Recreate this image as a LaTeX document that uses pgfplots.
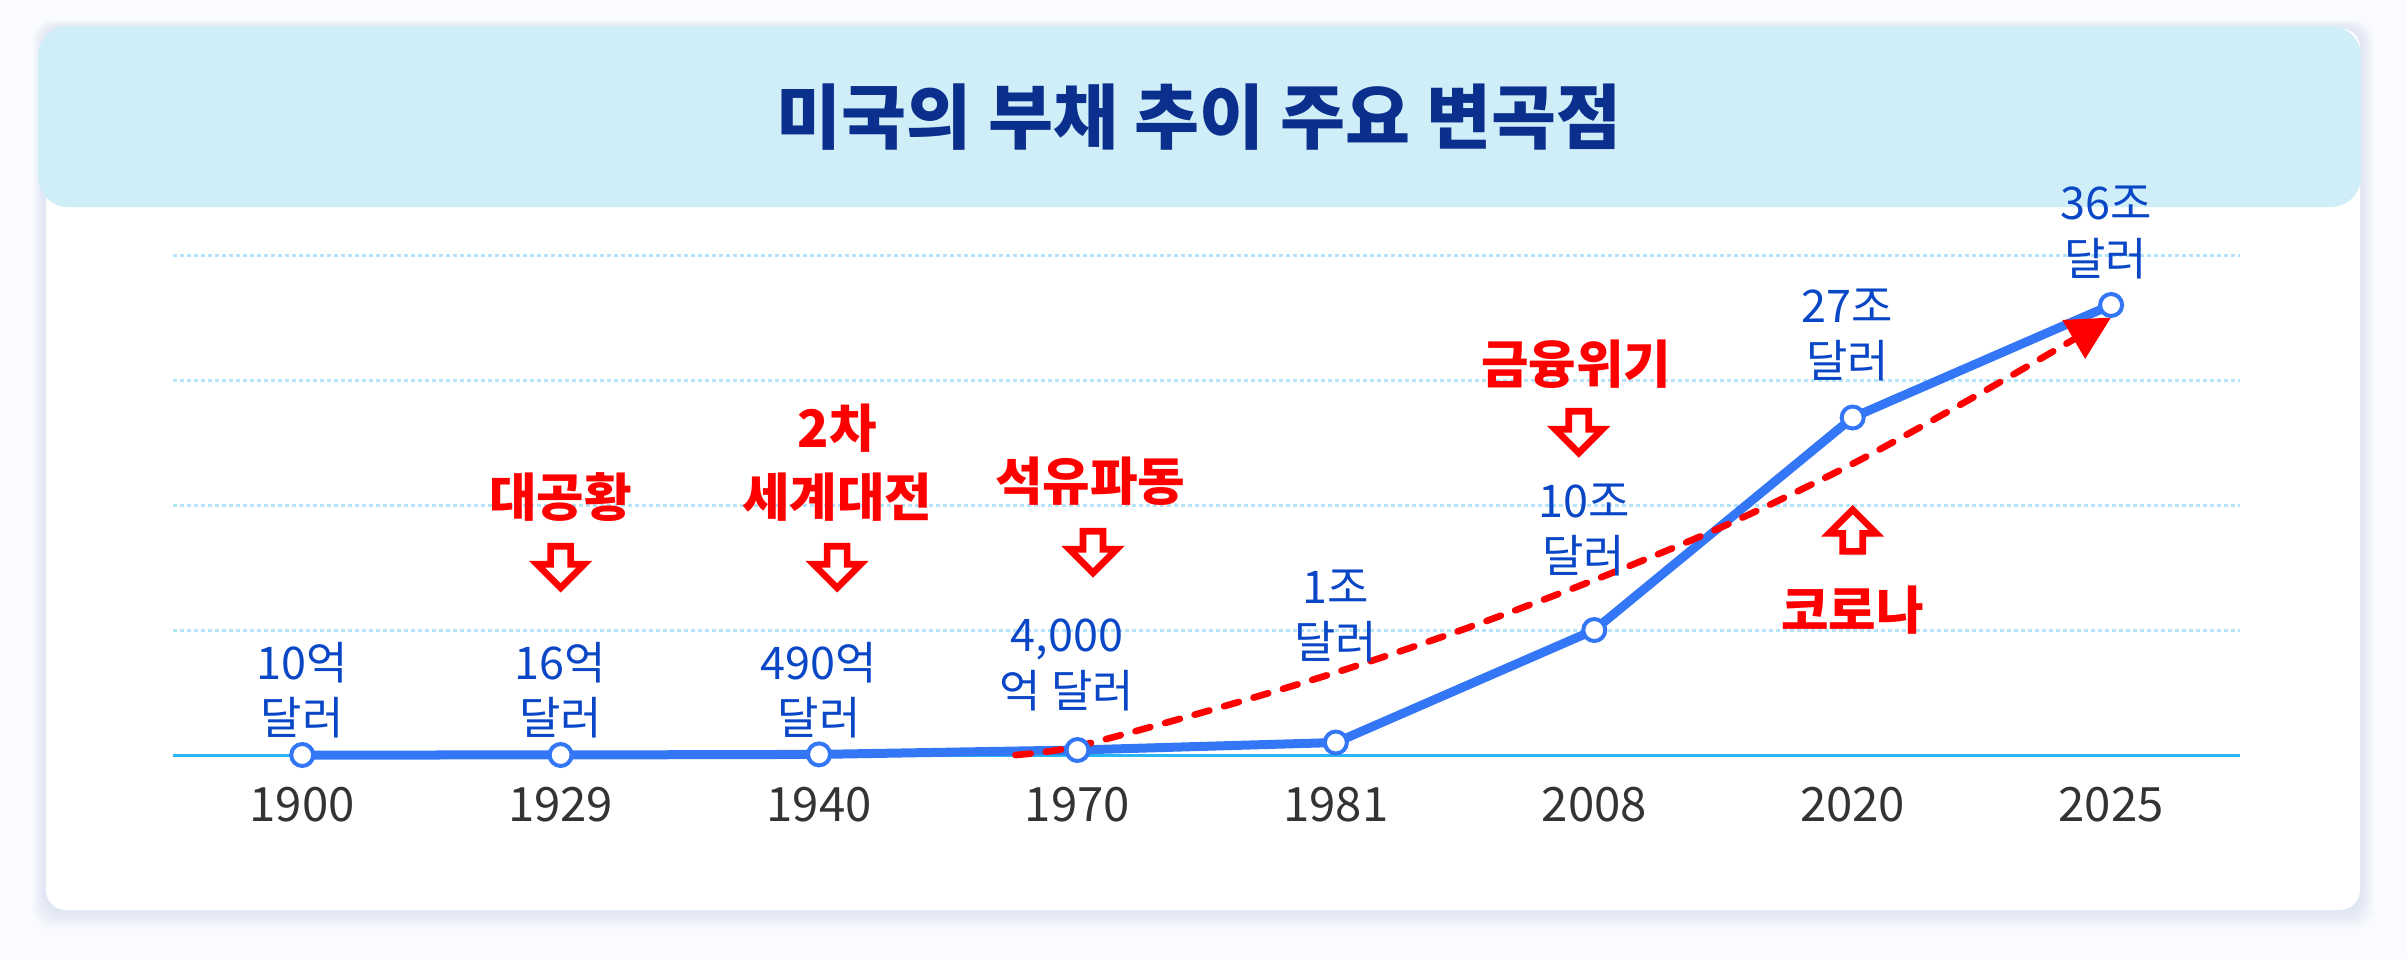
\documentclass[border=0pt]{standalone}
\usepackage{pgfplots}
\pgfplotsset{compat=1.18}
\usepackage{fontspec}
\setmainfont{Noto Sans CJK KR}
\usetikzlibrary{arrows.meta,shadows}
\definecolor{bgc}{HTML}{FAFBFE}
\definecolor{hdr}{HTML}{D0EEF8}
\definecolor{ttl}{HTML}{0B2F8C}
\definecolor{lblue}{HTML}{0A47C6}
\definecolor{lineblue}{HTML}{3377F6}
\definecolor{axblue}{HTML}{29B6F6}
\definecolor{gridc}{HTML}{B4E4FA}
\definecolor{rd}{HTML}{FF0000}
\definecolor{tickc}{HTML}{333333}
\definecolor{shad}{HTML}{C9D1EC}
\tikzset{
  harr/.pic={\draw[rd, fill=white, line width=2pt, line join=miter,
      drop shadow={opacity=0.18, shadow xshift=0.4pt, shadow yshift=-1.3pt}]
      (-3pt,6.4pt) -- (3pt,6.4pt) -- (3pt,1pt) -- (7.1pt,1pt) -- (0pt,-6.1pt)
      -- (-7.1pt,1pt) -- (-3pt,1pt) -- cycle;},
  bl/.style={align=center, inner sep=0pt, text=lblue, font=\fontsize{13.5}{16.6}\selectfont},
  rl/.style={align=center, inner sep=0pt, text=rd, font=\fontsize{15.5}{20.5}\selectfont\bfseries}
}
\begin{document}
\begin{tikzpicture}
\fill[bgc] (0,0) rectangle (722.1pt,287.7pt);
\foreach \i in {1,...,8} {
  \fill[shad, opacity=0.07, rounded corners=6pt]
    (13.8pt-\i*0.5pt, 14.7pt-\i*0.7pt) rectangle (708pt+\i*0.5pt, 279.3pt+\i*0.3pt);
}
\fill[white, rounded corners=6pt] (13.8pt,14.7pt) rectangle (708pt,279.3pt);
\fill[hdr, rounded corners=9pt] (11.4pt,225.6pt) rectangle (708.3pt,279.9pt);
\node[font=\fontsize{21.2}{25}\selectfont\bfseries, text=ttl] at (359.8pt,252.6pt) {미국의 부채 추이 주요 변곡점};

\begin{axis}[
  at={(51.9pt,61.2pt)}, anchor=south west, scale only axis,
  width=620.2pt, height=150pt,
  xmin=-0.5, xmax=7.5, ymin=0, ymax=40, clip=false,
  axis x line*=bottom, axis y line*=left,
  y axis line style={draw=none},
  x axis line style={axblue, line width=0.9pt},
  xtick={0,...,7},
  xticklabels={1900,1929,1940,1970,1981,2008,2020,2025},
  ytick={10,20,30,40}, yticklabels={},
  major tick length=0pt,
  ymajorgrids,
  grid style={gridc, line width=0.9pt, dash pattern=on 1.2pt off 0.9pt},
  xticklabel style={font=\fontsize{14.2}{16}\selectfont, text=tickc, anchor=center, yshift=-15pt},
]
\addplot[lineblue, line width=2.7pt, mark=*, mark size=3.3pt,
  mark options={fill=white, draw=lineblue, line width=1.2pt}]
  coordinates {(0,0.001) (1,0.0016) (2,0.049) (3,0.4) (4,1) (5,10) (6,27) (7,36)};
\addplot[rd, line width=2pt, smooth, line cap=round, dash pattern=on 4.6pt off 4.6pt,
  -{Triangle[length=13pt,width=13pt]}]
  coordinates {(2.76,0) (3.0,0.7) (3.5,3.5) (4.0,6.6) (4.5,10.1) (5.0,14) (5.5,18.3) (6.0,23.3) (6.5,29) (7.0,35.0)};

\node[bl] at (axis cs:0,5.2) {10억\\달러};
\node[bl] at (axis cs:1,5.2) {16억\\달러};
\node[bl] at (axis cs:2,5.2) {490억\\달러};
\node[bl] at (axis cs:2.96,7.2) {4,000\\억 달러};
\node[bl] at (axis cs:4,11.1) {1조\\달러};
\node[bl] at (axis cs:4.96,18.0) {10조\\달러};
\node[bl] at (axis cs:5.98,33.6) {27조\\달러};
\node[bl] at (axis cs:6.98,41.8) {36조\\달러};

\node[rl] at (axis cs:1,20.6) {대공황};
\node[rl] at (axis cs:2.07,23.4) {2차\\세계대전};
\node[rl] at (axis cs:3.05,21.9) {석유파동};
\node[rl] at (axis cs:4.93,31.3) {금융위기};
\node[rl] at (axis cs:6.0,11.6) {코로나};

\path (axis cs:1,15) pic{harr};
\path (axis cs:2.07,15) pic{harr};
\path (axis cs:3.06,16.2) pic{harr};
\path (axis cs:4.94,25.8) pic{harr};
\path (axis cs:6.0,18) pic[rotate=180]{harr};
\end{axis}
\pgfresetboundingbox
\path[use as bounding box] (0,0) rectangle (722.1pt,287.7pt);
\end{tikzpicture}
\end{document}
